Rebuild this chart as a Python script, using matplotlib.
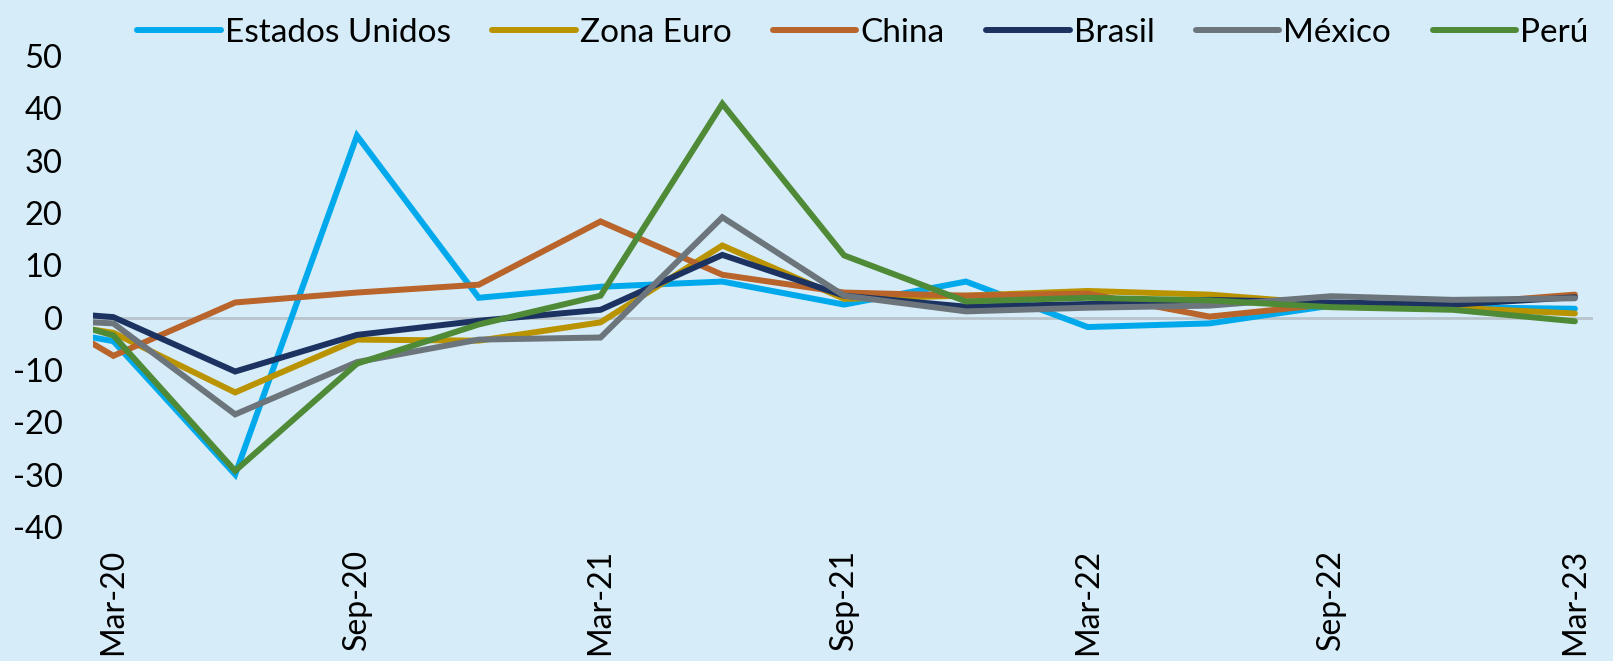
import matplotlib
matplotlib.use("Agg")
import matplotlib.pyplot as plt

# x positions in months from Mar-20 (first point slightly before)
months = [-0.5, 0, 3, 6, 9, 12, 15, 18, 21, 24, 27, 30, 33, 36]
tick_pos = [0, 6, 12, 18, 24, 30, 36]
tick_labels = ["Mar-20", "Sep-20", "Mar-21", "Sep-21", "Mar-22", "Sep-22", "Mar-23"]

estados_unidos = [-3.8, -4.5, -30.0, 34.8, 3.8, 5.9, 6.9, 2.5, 6.9, -1.8, -1.1, 2.3, 2.0, 1.7]
zona_euro = [-2.3, -2.9, -14.3, -4.2, -4.4, -0.9, 13.8, 3.6, 4.2, 5.1, 4.4, 2.6, 1.9, 0.8]
china = [-5.0, -7.3, 2.9, 4.8, 6.3, 18.4, 8.2, 4.8, 4.2, 4.6, 0.2, 2.6, 2.6, 4.4]
brasil = [0.4, 0.1, -10.3, -3.3, -0.6, 1.5, 12.0, 4.2, 2.1, 2.6, 3.4, 2.9, 2.5, 3.9]
mexico = [-0.9, -1.1, -18.5, -8.5, -4.2, -3.8, 19.2, 4.2, 1.2, 1.9, 2.3, 4.1, 3.4, 3.7]
peru = [-2.3, -3.4, -29.3, -8.8, -1.3, 4.2, 40.9, 11.9, 3.1, 3.8, 3.3, 2.0, 1.5, -0.7]

series = [
    ("Estados Unidos", estados_unidos, "#00A9EC"),
    ("Zona Euro", zona_euro, "#BA9300"),
    ("China", china, "#B8642A"),
    ("Brasil", brasil, "#1C3361"),
    ("México", mexico, "#6C757B"),
    ("Perú", peru, "#4F8A37"),
]

bg = "#D6ECF8"
plt.rcParams['font.family'] = ['Lato', 'DejaVu Sans']

fig = plt.figure(figsize=(16.13, 6.61), dpi=100, facecolor=bg)
ax = fig.add_axes([0.0577, 0.203, 0.93, 0.712])
ax.set_facecolor(bg)

ax.axhline(0, color="#B8C4CC", lw=2.0, zorder=1)
handles = []
for name, vals, col in series:
    h, = ax.plot(months, vals, color=col, lw=4.3, label=name, zorder=3,
                 solid_joinstyle="miter", solid_capstyle="round")
    handles.append(h)

ax.set_xlim(-0.5, 36.45)
ax.set_ylim(-40, 50)
ax.set_yticks(range(-40, 51, 10))
ax.set_yticklabels([str(v) for v in range(-40, 51, 10)], fontsize=23.5)
ax.set_xticks(tick_pos)
ax.set_xticklabels(tick_labels, rotation=90, fontsize=23)
ax.tick_params(axis="both", length=0, colors="black")
ax.tick_params(axis="y", pad=22)
ax.tick_params(axis="x", pad=16)
for s in ax.spines.values():
    s.set_visible(False)

fig.legend(handles=handles, loc="center", bbox_to_anchor=(0.535, 0.950), ncol=6,
           frameon=False, fontsize=24, handlelength=2.5, handletextpad=0.12,
           columnspacing=1.25)

fig.savefig("out.png", dpi=100, facecolor=bg)
